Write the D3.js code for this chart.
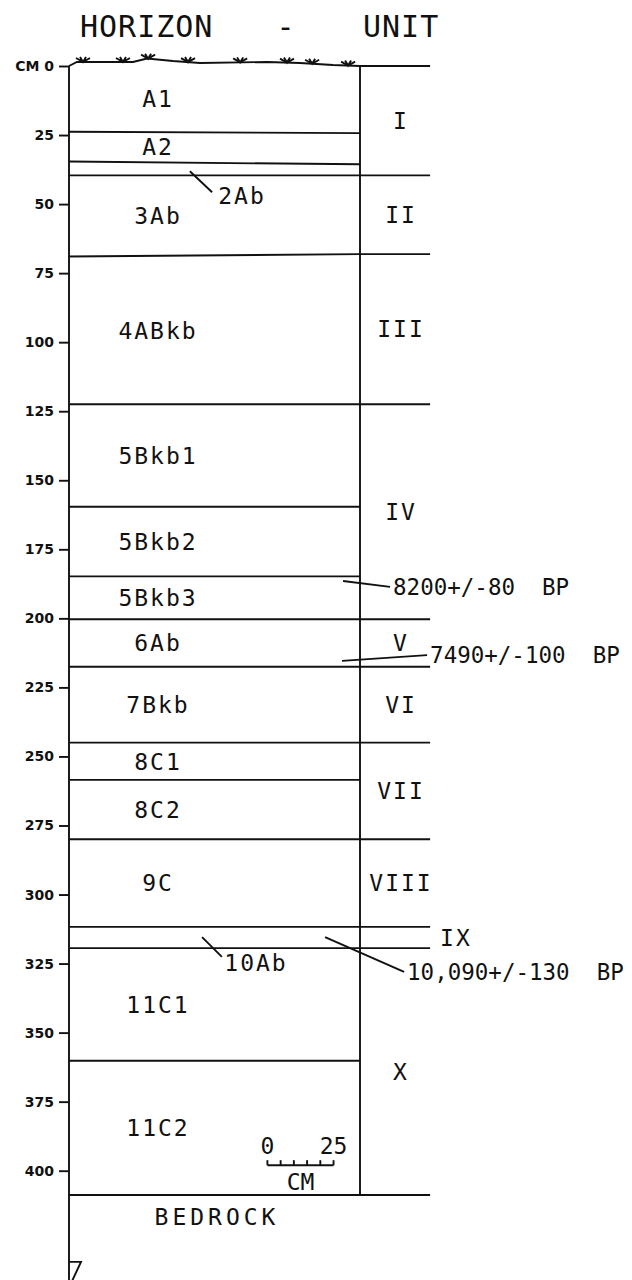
<!DOCTYPE html>
<html lang="en">
<head>
<meta charset="UTF-8">
<title>Soil profile - horizons and units</title>
<script src="https://d3js.org/d3.v7.min.js"></script>
<style>
  body { margin: 0; background: #fff; }
  svg { display: block; }
  text { font-family: "DejaVu Sans Mono", monospace; fill: #111; }
  .lbl { font-size: 23px; letter-spacing: 2px; }
  .date { font-size: 22.5px; letter-spacing: 0px; white-space: pre; }
  .title { font-size: 30px; letter-spacing: 1px; }
  .tick text { font-family: "DejaVu Sans", sans-serif; font-size: 14px; font-weight: bold; }
  line, path { stroke: #111; stroke-width: 1.9; fill: none; }
</style>
</head>
<body>
<svg width="632" height="1280"></svg>
<script>
// depth ticks, cm
const depthTicks = d3.range(0, 401, 25);

// horizons and their upper boundary at the left / right edge of the profile (cm)
const horizonNames = ["A1", "A2", "2Ab", "3Ab", "4ABkb", "5Bkb1", "5Bkb2", "5Bkb3",
  "6Ab", "7Bkb", "8C1", "8C2", "9C", "10Ab", "11C1", "11C2"];
const topLeft  = [0, 23.8, 34.6, 39.6, 69.0, 122.5, 159.6, 184.8, 200.3, 217.5, 245, 258.5, 280, 311.7, 319.4, 360.2];
const topRight = [0, 24.3, 35.6, 39.6, 68.1, 122.5, 159.6, 184.8, 200.3, 217.5, 245, 258.5, 280, 311.7, 319.4, 360.2];
const bedrockDepth = 408.8;

// stratigraphic units, upper boundary (cm)
const unitNames = ["I", "II", "III", "IV", "V", "VI", "VII", "VIII", "IX", "X"];
const unitTops = [0, 39.6, 68.1, 122.5, 200.3, 217.5, 245, 280, 311.7, 319.4];

// radiocarbon dates: sample point and label (cm across, cm depth)
const dateLabels = ["8200+/-80  BP", "7490+/-100  BP", "10,090+/-130  BP"];
const dateSampleAcross = [103.6, 103.2, 96.8];
const dateSampleDepth = [186.5, 215.4, 315.4];
const dateTextAcross = [122.5, 136.5, 127.8];
const dateTextDepth = [188.6, 213.3, 328];

// thin horizons labelled with a leader
const calloutNames = ["2Ab", "10Ab"];
const calloutFrom = [[45.7, 38.1], [50.3, 315.4]];
const calloutTo = [[54.1, 45.7], [57.8, 322.6]];
const calloutText = [[65.4, 47.1], [70.7, 324.8]];

// ground surface relief and grass tufts
const surfaceAcross = [0, 3, 24.2, 29.5, 39.3, 49.5, 74.9, 87.3, 99.8, 110];
const surfaceDepth = [0, -1.45, -1.45, -2.7, -1.8, -1.1, -1.45, -1.1, -0.36, 0];
const grassAcross = [5.3, 20.4, 29.9, 45, 64.7, 82.4, 91.9, 105.5];

const svg = d3.select("svg");
const y = d3.scaleLinear().domain([0, 400]).range([66, 1170.7]);
const x = d3.scaleLinear().domain([0, 110]).range([69, 360]);
const profileW = 110, unitEdge = 136.5, labelX = 158, unitX = 401;

// title
svg.append("text").attr("class", "title").attr("x", 80).attr("y", 37).text("HORIZON");
svg.append("text").attr("class", "title").attr("x", 286).attr("y", 37).attr("text-anchor", "middle").text("-");
svg.append("text").attr("class", "title").attr("x", 363).attr("y", 37).text("UNIT");

// depth axis
svg.append("g")
  .attr("transform", `translate(${x(0)},0)`)
  .call(d3.axisLeft(y).tickValues(depthTicks).tickSize(10).tickPadding(5)
    .tickFormat(d => d === 0 ? "CM 0" : d))
  .call(g => g.select(".domain").remove());

svg.append("line")
  .attr("x1", x(0)).attr("x2", x(0)).attr("y1", y(0)).attr("y2", y(445));

// bottom marker
svg.append("path")
  .attr("d", `M${x(0)},${y(433)}H${x(0) + 12}L${x(0) + 3},${y(440)}`);

// ground surface
const relief = d3.scaleLinear().domain(surfaceAcross).range(surfaceDepth);
svg.append("path")
  .datum(surfaceAcross)
  .attr("d", d3.line().x(d => x(d)).y(d => y(relief(d))));
svg.append("line")
  .attr("x1", x(profileW)).attr("x2", x(unitEdge)).attr("y1", y(0)).attr("y2", y(0));
svg.append("g").selectAll("path")
  .data(grassAcross)
  .join("path")
  .attr("stroke-width", 1.5)
  .attr("d", d => {
    const gx = x(d), gy = y(relief(d));
    return `M${gx - 7},${gy - 4}L${gx},${gy}L${gx + 7},${gy - 4}M${gx - 3},${gy - 5}L${gx},${gy}L${gx + 3},${gy - 5}`;
  });

// profile right edge
svg.append("line")
  .attr("x1", x(profileW)).attr("x2", x(profileW)).attr("y1", y(0)).attr("y2", y(bedrockDepth));

// horizon boundaries
svg.append("g").selectAll("line")
  .data(d3.range(1, horizonNames.length))
  .join("line")
  .attr("x1", x(0)).attr("x2", x(profileW))
  .attr("y1", i => y(topLeft[i])).attr("y2", i => y(topRight[i]));

// unit boundaries continue to the right
svg.append("g").selectAll("line")
  .data(unitTops.slice(1))
  .join("line")
  .attr("x1", x(profileW)).attr("x2", x(unitEdge))
  .attr("y1", d => y(d)).attr("y2", d => y(d));

// bedrock
svg.append("line")
  .attr("x1", x(0)).attr("x2", x(unitEdge)).attr("y1", y(bedrockDepth)).attr("y2", y(bedrockDepth));
svg.append("text").attr("class", "lbl")
  .attr("x", 217).attr("y", y(bedrockDepth) + 22).attr("dy", "0.35em")
  .attr("text-anchor", "middle").style("letter-spacing", "4px").text("BEDROCK");

// horizon labels
const bottoms = topLeft.slice(1).concat([bedrockDepth]);
svg.append("g").selectAll("text")
  .data(horizonNames.map((n, i) => ({ n, mid: (topLeft[i] + bottoms[i]) / 2 }))
    .filter(d => !calloutNames.includes(d.n)))
  .join("text")
  .attr("class", "lbl")
  .attr("x", labelX).attr("y", d => y(d.mid)).attr("dy", "0.36em")
  .attr("text-anchor", "middle")
  .text(d => d.n);

// callouts for thin horizons
calloutNames.forEach((n, i) => {
  svg.append("line")
    .attr("x1", x(calloutFrom[i][0])).attr("y1", y(calloutFrom[i][1]))
    .attr("x2", x(calloutTo[i][0])).attr("y2", y(calloutTo[i][1]));
  svg.append("text").attr("class", "lbl")
    .attr("x", x(calloutText[i][0])).attr("y", y(calloutText[i][1])).attr("dy", "0.36em")
    .attr("text-anchor", "middle").text(n);
});

// unit labels
const unitBottoms = unitTops.slice(1).concat([bedrockDepth]);
svg.append("g").selectAll("text")
  .data(unitNames.map((n, i) => ({ n, mid: (unitTops[i] + unitBottoms[i]) / 2 })))
  .join("text")
  .attr("class", "lbl")
  .attr("x", d => d.n === "IX" ? x(unitEdge) + 10 : unitX)
  .attr("y", d => y(d.mid)).attr("dy", "0.36em")
  .attr("text-anchor", d => d.n === "IX" ? "start" : "middle")
  .text(d => d.n);

// radiocarbon dates
dateLabels.forEach((t, i) => {
  svg.append("line")
    .attr("x1", x(dateSampleAcross[i])).attr("y1", y(dateSampleDepth[i]))
    .attr("x2", x(dateTextAcross[i]) - 3).attr("y2", y(dateTextDepth[i]));
  svg.append("text").attr("class", "date")
    .attr("x", x(dateTextAcross[i])).attr("y", y(dateTextDepth[i])).attr("dy", "0.36em")
    .text(t);
});

// scale bar
const sb = d3.scaleLinear().domain([0, 25]).range([x(75), x(100)]);
const sbY = y(398);
svg.append("line").attr("x1", sb(0)).attr("x2", sb(25)).attr("y1", sbY).attr("y2", sbY);
svg.append("g").selectAll("line")
  .data(d3.range(0, 26, 5))
  .join("line")
  .attr("stroke-width", 1.5)
  .attr("x1", d => sb(d)).attr("x2", d => sb(d)).attr("y1", sbY).attr("y2", sbY - 5);
svg.append("text").attr("class", "lbl").attr("x", sb(0)).attr("y", sbY - 11)
  .attr("text-anchor", "middle").style("letter-spacing", "0px").text("0");
svg.append("text").attr("class", "lbl").attr("x", sb(25)).attr("y", sbY - 11)
  .attr("text-anchor", "middle").style("letter-spacing", "0px").text("25");
svg.append("text").attr("class", "lbl").attr("x", sb(12.5)).attr("y", sbY + 25)
  .attr("text-anchor", "middle").style("letter-spacing", "0px").text("CM");
</script>
</body>
</html>
